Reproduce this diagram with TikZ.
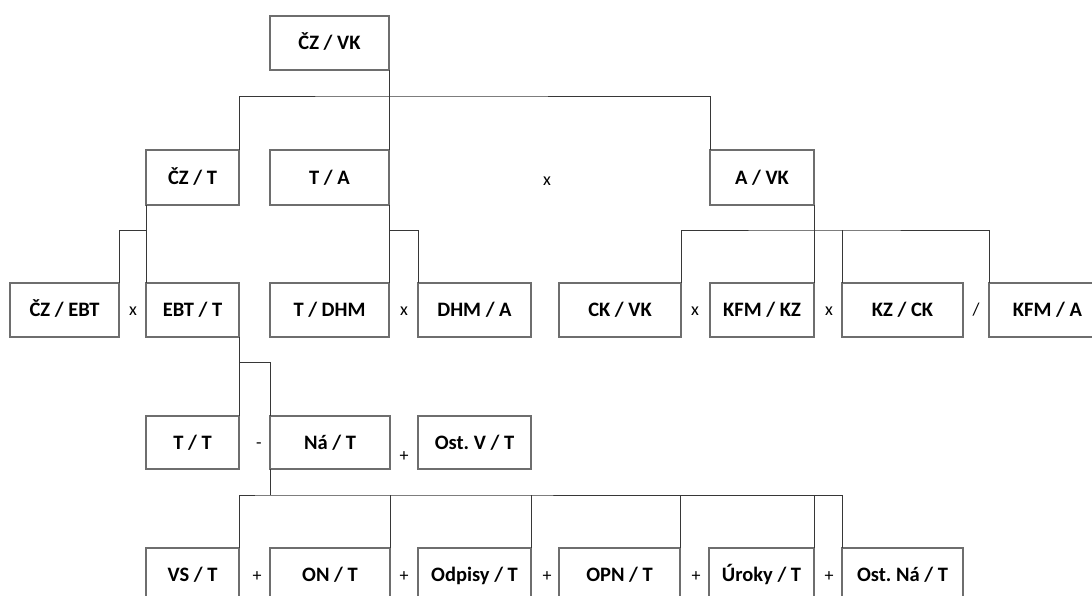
\documentclass[tikz,border=0pt]{standalone}
\usepackage{fontspec}
\setmainfont{Carlito}
\frenchspacing
\usetikzlibrary{calc}
\definecolor{boxgray}{RGB}{110,110,110}
\definecolor{linegray}{RGB}{55,55,55}
\tikzset{
  box/.style={draw=boxgray, line width=1.1pt, inner sep=0pt, outer sep=0pt,
    minimum height=54pt, text height=17.2pt, text depth=4pt,
    font=\fontsize{20.5}{24}\selectfont\bfseries, text=black},
  conn/.style={draw=linegray, line width=1pt},
  op/.style={inner sep=0pt, font=\fontsize{18}{22}\selectfont, text=black}
}
\begin{document}
\begin{tikzpicture}[x=1pt,y=-1pt]
\useasboundingbox (0,0) rectangle (1092,595);
\clip (0,0) rectangle (1092,595);
% row 1
\node[box, minimum width=119pt] (czvk) at (329.5,43) {ČZ / VK};
% row 2
\node[box, minimum width=93pt, minimum height=55pt] (czt) at (192.5,177.5) {ČZ / T};
\node[box, minimum width=119pt, minimum height=55pt] (ta) at (329.5,177.5) {T / A};
\node[box, minimum width=104pt, minimum height=55pt] (avk) at (762,177.5) {A / VK};
% row 3
\node[box, minimum width=109pt] (czebt) at (64.5,310) {ČZ / EBT};
\node[box, minimum width=93pt] (ebtt) at (192.5,310) {EBT / T};
\node[box, minimum width=119pt] (tdhm) at (329.5,310) {T / DHM};
\node[box, minimum width=113pt] (dhma) at (474.5,310) {DHM / A};
\node[box, minimum width=122pt] (ckvk) at (620,310) {CK / VK};
\node[box, minimum width=104pt] (kfmkz) at (762,310) {KFM / KZ};
\node[box, minimum width=121pt] (kzck) at (902.5,310) {KZ / CK};
\node[box, minimum width=117pt] (kfma) at (1047.5,310) {KFM / A};
% row 4
\node[box, minimum width=93pt, minimum height=53pt] (tt) at (192.5,442.5) {T / T};
\node[box, minimum width=120pt, minimum height=53pt] (nat) at (330,442.5) {Ná / T};
\node[box, minimum width=113pt, minimum height=53pt] (ostvt) at (474.5,442.5) {Ost. V / T};
% row 5
\node[box, minimum width=93pt] (vst) at (192.5,575) {VS / T};
\node[box, minimum width=120pt] (ont) at (330,575) {ON / T};
\node[box, minimum width=113pt] (odpisy) at (474.5,575) {Odpisy / T};
\node[box, minimum width=121pt] (opnt) at (619.5,575) {OPN / T};
\node[box, minimum width=105pt] (uroky) at (761.5,575) {Úroky / T};
\node[box, minimum width=121pt] (ostnat) at (902.5,575) {Ost. Ná / T};
% operators
\node[op] (o1) at (547,181) {x};
\node[op] (o2) at (133,311) {x};
\node[op] (o3) at (404,311) {x};
\node[op] (o4) at (695,311) {x};
\node[op] (o5) at (829,311) {x};
\node[op] (o6) at (976,310) {/};
\node[op] (o7) at (259,446) {-};
\node[op] (o8) at (404,457) {+};
\node[op] (o9) at (257,577) {+};
\node[op] (o10) at (404,577) {+};
\node[op] (o11) at (547,577) {+};
\node[op] (o12) at (696,577) {+};
\node[op] (o13) at (829,577) {+};
% connector levels
\coordinate (h1) at ($(czvk.south east)+(0,26)$);
\coordinate (h2) at ($(czt.south west)+(0,25)$);
\coordinate (h3) at ($(ta.south east)+(0,25)$);
\coordinate (h4) at ($(avk.south east)+(0,25)$);
\coordinate (h5) at ($(ebtt.south east)+(0,25)$);
\coordinate (h6) at ($(nat.south west)+(0,26)$);
% row1 -> row2
\draw[conn] (czvk.south east) -- (ta.north east);
\draw[conn] (czt.north east) |- (h1) -| (avk.north west);
% czt -> row3
\draw[conn] (czt.south west) -- (ebtt.north west);
\draw[conn] (czebt.north east) |- (h2);
% ta -> row3
\draw[conn] (ta.south east) -- (tdhm.north east);
\draw[conn] (h3) -| (dhma.north west);
% avk -> row3
\draw[conn] (avk.south east) -- (kfmkz.north east);
\draw[conn] (ckvk.north east) |- (h4) -| (kfma.north west);
\draw[conn] (kzck.north west) -- (kzck.north west |- h4);
% ebtt -> row4
\draw[conn] (ebtt.south east) -- (tt.north east);
\draw[conn] (h5) -| (nat.north west);
% nat -> row5
\draw[conn] (nat.south west) -- (h6);
\draw[conn] (vst.north east) |- (h6) -| (ostnat.north west);
\draw[conn] (ont.north east) -- (ont.north east |- h6);
\draw[conn] (odpisy.north east) -- (odpisy.north east |- h6);
\draw[conn] (opnt.north east) -- (opnt.north east |- h6);
\draw[conn] (uroky.north east) -- (uroky.north east |- h6);
\end{tikzpicture}
\end{document}
